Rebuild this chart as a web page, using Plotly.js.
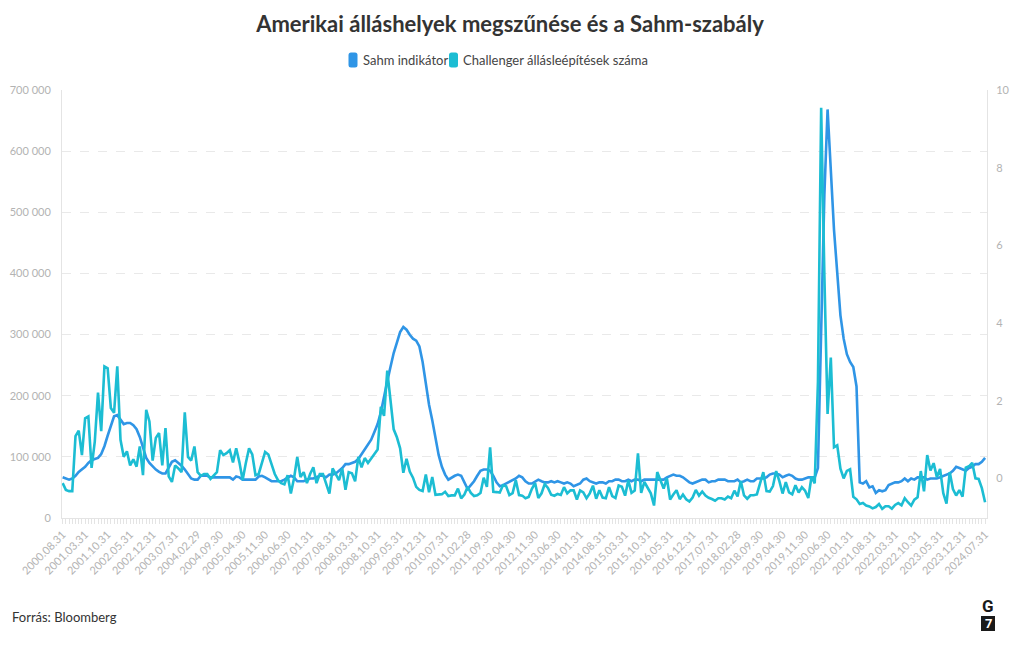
<!DOCTYPE html>
<html>
<head>
<meta charset="utf-8">
<script src="https://cdn.plot.ly/plotly-3.0.1.min.js"></script>
<style>
  html, body { margin: 0; padding: 0; background: #ffffff; }
  #chart { width: 1020px; height: 650px; }
</style>
</head>
<body>
<div id="chart"></div>
<script>
// ---------------- DATA ----------------
const TITLE = 'Amerikai álláshelyek megszűnése és a Sahm-szabály';
const SERIES_NAMES = ['Sahm indikátor', 'Challenger állásleépítések száma'];
const SOURCE = 'Forrás: Bloomberg';

// first month of the monthly series (month-end dates)
const START_YEAR = 2000;
const START_MONTH = 8;

// Sahm recession indicator (percentage points), monthly, 2000.08 – 2024.07
const sahmIndicator = [
  0.03, 0.0, -0.03, 0.0, 0.07,                                              // 2000
  0.17, 0.23, 0.3, 0.4, 0.47, 0.5, 0.53, 0.63, 0.83, 1.1, 1.37, 1.6,        // 2001
  1.63, 1.5, 1.4, 1.43, 1.43, 1.37, 1.27, 1.07, 0.77, 0.53, 0.4, 0.3,       // 2002
  0.23, 0.17, 0.13, 0.13, 0.27, 0.43, 0.47, 0.4, 0.33, 0.23, 0.13, 0.0,     // 2003
  -0.03, -0.03, 0.07, 0.07, 0.07, 0.03, 0.03, 0.03, 0.03, 0.03, 0.03, 0.03, // 2004
  -0.03, 0.05, 0.03, -0.03, -0.03, -0.03, -0.03, -0.03, 0.05, 0.07, 0.03, -0.03, // 2005
  -0.07, -0.07, -0.07, -0.07, -0.03, 0.03, 0.07, 0.03, -0.07, -0.07, -0.07, -0.03, // 2006
  0.0, 0.0, 0.03, 0.07, 0.07, 0.03, 0.1, 0.1, 0.13, 0.2, 0.27, 0.37,        // 2007
  0.37, 0.4, 0.43, 0.5, 0.63, 0.77, 0.87, 1.0, 1.2, 1.4, 1.7, 2.13,         // 2008
  2.5, 2.87, 3.23, 3.5, 3.77, 3.9, 3.83, 3.7, 3.6, 3.55, 3.4, 3.0,          // 2009
  2.4, 1.9, 1.5, 1.0, 0.6, 0.3, 0.1, -0.03, 0.03, 0.07, 0.1, 0.07,          // 2010
  -0.1, -0.27, -0.17, -0.07, 0.07, 0.2, 0.23, 0.23, 0.2, 0.07, -0.1, -0.2,  // 2011
  -0.17, -0.13, -0.07, -0.03, 0.0, 0.07, 0.03, -0.07, -0.13, -0.13, -0.07, -0.03, // 2012
  -0.07, -0.1, -0.1, -0.07, -0.1, -0.07, -0.1, -0.13, -0.1, -0.13, -0.2, -0.17, // 2013
  -0.13, -0.03, 0.0, -0.07, -0.1, -0.13, -0.1, -0.1, -0.13, -0.07, -0.07, -0.03, // 2014
  -0.03, -0.07, -0.07, -0.03, -0.07, -0.03, -0.03, -0.07, -0.03, -0.03, -0.03, -0.03, // 2015
  -0.03, -0.03, -0.03, 0.03, 0.07, 0.1, 0.07, 0.07, 0.03, -0.03, -0.1, -0.13, // 2016
  -0.1, -0.07, -0.03, -0.03, -0.1, -0.07, -0.07, -0.03, -0.03, -0.03, -0.07, -0.07, // 2017
  -0.07, -0.03, -0.1, -0.07, -0.03, -0.07, -0.07, 0.0, 0.0, 0.0, 0.03, 0.1, // 2018
  0.13, 0.13, 0.1, 0.03, 0.07, 0.1, 0.07, 0.0, -0.03, -0.03, 0.0, 0.03,     // 2019
  0.03, 0.03, 0.27, 4.07, 7.3, 9.5, 8.0, 6.4, 5.3, 4.2, 3.6, 3.2,           // 2020
  3.0, 2.87, 2.37, -0.1, -0.13, -0.07, -0.23, -0.2, -0.37, -0.3, -0.33, -0.3, // 2021
  -0.17, -0.13, -0.1, -0.1, -0.07, 0.0, -0.07, 0.0, -0.03, 0.03, 0.03, 0.03, // 2022
  -0.03, 0.0, 0.0, 0.0, 0.03, 0.07, 0.1, 0.13, 0.2, 0.3, 0.27, 0.23,        // 2023
  0.2, 0.27, 0.3, 0.37, 0.37, 0.43, 0.53                                    // 2024
];

// Challenger job cuts (number of announced layoffs), monthly, 2000.08 – 2024.07
const challengerCuts = [
  57000, 46000, 44000, 44000, 134000,                                                    // 2000
  143000, 103000, 163000, 166000, 82000, 125000, 205000, 142000, 248000, 245000, 180000, 172000, // 2001
  248000, 128000, 100000, 109000, 86000, 96000, 84000, 117000, 70000, 177000, 158000, 94000,    // 2002
  131000, 139000, 86000, 147000, 68000, 59000, 86000, 81000, 75000, 173000, 100000, 94000,      // 2003
  117000, 75000, 69000, 72000, 72000, 64000, 69000, 75000, 111000, 103000, 106000, 111000,      // 2004
  91000, 114000, 91000, 62000, 90000, 114000, 104000, 70000, 72000, 91000, 108000, 104000,      // 2005
  88000, 72000, 62000, 57000, 55000, 70000, 40000, 65000, 100000, 67000, 75000, 57000,          // 2006
  72000, 83000, 57000, 72000, 72000, 54000, 40000, 81000, 72000, 62000, 81000, 46000,           // 2007
  75000, 73000, 60000, 100000, 83000, 98000, 90000, 97000, 105000, 112000, 182000, 167000,      // 2008
  241000, 190000, 145000, 132000, 114000, 74000, 97000, 76000, 66000, 51000, 46000, 44000,      // 2009
  71000, 42000, 67000, 38000, 39000, 39000, 43000, 36000, 37000, 37000, 48000, 32000,           // 2010
  38500, 50700, 41000, 36000, 37000, 41000, 66000, 51000, 115700, 42700, 42400, 41600,          // 2011
  53500, 51700, 37500, 40600, 61900, 37600, 36600, 32200, 34400, 47700, 57100, 32600,           // 2012
  40400, 55400, 49300, 38100, 36400, 39400, 37700, 50500, 40300, 45200, 45300, 30300,           // 2013
  45100, 41800, 32200, 40300, 52900, 31400, 45400, 33400, 32200, 50500, 35900, 32600,           // 2014
  53000, 51000, 36600, 61600, 41000, 44800, 105700, 41200, 58900, 50500, 40300, 20400,          // 2015
  75100, 61600, 48200, 65100, 30200, 38500, 45300, 30800, 38400, 30700, 26900, 33600,           // 2016
  45900, 36600, 43300, 36600, 33100, 31100, 28300, 32200, 32300, 30200, 35000, 32400,           // 2017
  44700, 35400, 60400, 36900, 31500, 37200, 37200, 38500, 55000, 75000, 43900, 43100,           // 2018
  52200, 76800, 60200, 40000, 58600, 41900, 38800, 53500, 41600, 50300, 44600, 32800,           // 2019
  67700, 56700, 222300, 671100, 397000, 170200, 262600, 115800, 118800, 80700, 64800, 77000,    // 2020
  79600, 34500, 30600, 22900, 24600, 20500, 18900, 15700, 17900, 22800, 14900, 19100,           // 2021
  19300, 15200, 21400, 24300, 20700, 32500, 25800, 20300, 29900, 33800, 76800, 43700,           // 2022
  103000, 77800, 89700, 66900, 80100, 40700, 23700, 75200, 47500, 36800, 45500, 34800,          // 2023
  82300, 84600, 90300, 64800, 63800, 48800, 25900                                               // 2024
];

// right-axis tick values, label spacing (every 7th month)
const sahmTicks = [0, 2, 4, 6, 8, 10];
const LABEL_EVERY = 7;

// ---------------- HELPERS ----------------
function monthEndLabels(y0, m0, n) {
  const out = [];
  for (let k = 0; k < n; k++) {
    const y = y0 + Math.floor((m0 - 1 + k) / 12);
    const m = ((m0 - 1 + k) % 12) + 1;
    const d = new Date(Date.UTC(y, m, 0)).getUTCDate();
    out.push(y + '.' + String(m).padStart(2, '0') + '.' + String(d).padStart(2, '0'));
  }
  return out;
}
const months = monthEndLabels(START_YEAR, START_MONTH, sahmIndicator.length);
const tickText = months.map((m, i) => (i % LABEL_EVERY === 0 ? m : ''));

// ---------------- GEOMETRY ----------------
const W = 1020, H = 650;
const M = { l: 62, r: 33, t: 90, b: 132 };
const PW = W - M.l - M.r, PH = H - M.t - M.b;
const px = x => (x - M.l) / PW;        // pixel -> paper x
const py = y => (M.t + PH - y) / PH;   // pixel -> paper y

// rounded rectangle path in paper coordinates, from pixel box
function roundRect(x0, y0, x1, y1, r) {
  const rx = r / PW, ry = r / PH;
  const X0 = px(x0), X1 = px(x1), Yt = py(y0), Yb = py(y1);
  return 'M' + (X0 + rx) + ',' + Yt +
    ' L' + (X1 - rx) + ',' + Yt +
    ' Q' + X1 + ',' + Yt + ' ' + X1 + ',' + (Yt - ry) +
    ' L' + X1 + ',' + (Yb + ry) +
    ' Q' + X1 + ',' + Yb + ' ' + (X1 - rx) + ',' + Yb +
    ' L' + (X0 + rx) + ',' + Yb +
    ' Q' + X0 + ',' + Yb + ' ' + X0 + ',' + (Yb + ry) +
    ' L' + X0 + ',' + (Yt - ry) +
    ' Q' + X0 + ',' + Yt + ' ' + (X0 + rx) + ',' + Yt + ' Z';
}

const BLUE = '#2f95e6';
const CYAN = '#1cbdd3';
const AXIS_TXT = '#b3b3b3';
const LINE_CLR = '#e4e4e4';
const FONT = 'Lato, "Source Sans Pro", "Open Sans", sans-serif';

// ---------------- TRACES ----------------
const traces = [
  {
    type: 'scatter', mode: 'lines', name: SERIES_NAMES[0],
    x: months, y: sahmIndicator, yaxis: 'y',
    line: { color: BLUE, width: 2.6 }, showlegend: false,
    hovertemplate: '%{x}<br>%{y}<extra>' + SERIES_NAMES[0] + '</extra>'
  },
  {
    type: 'scatter', mode: 'lines', name: SERIES_NAMES[1],
    x: months, y: challengerCuts, yaxis: 'y2',
    line: { color: CYAN, width: 2.6 }, showlegend: false,
    hovertemplate: '%{x}<br>%{y}<extra>' + SERIES_NAMES[1] + '</extra>'
  }
];

// ---------------- LAYOUT ----------------
const legendY = 60;
const layout = {
  width: W, height: H,
  margin: M,
  paper_bgcolor: '#ffffff', plot_bgcolor: '#ffffff',
  font: { family: FONT, color: '#444' },
  separators: ', ',
  showlegend: false,
  title: {
    text: '<b>' + TITLE + '</b>',
    font: { family: FONT, size: 22, color: '#333333' },
    x: 0.5, xanchor: 'center', xref: 'container',
    y: 1 - 24 / H, yanchor: 'middle', yref: 'container'
  },
  xaxis: {
    type: 'category',
    range: [-0.2, months.length - 0.4],
    tickmode: 'array', tickvals: months, ticktext: tickText,
    tickangle: -45,
    ticks: 'outside', ticklen: 5, tickcolor: LINE_CLR, tickwidth: 1,
    tickfont: { family: FONT, size: 11, color: AXIS_TXT },
    showline: true, linecolor: LINE_CLR, linewidth: 1,
    showgrid: false, zeroline: false, automargin: false, fixedrange: true
  },
  // Sahm indicator: right axis (primary, drawn first)
  yaxis: {
    side: 'right',
    range: [-1.017, 10.0005],
    tickmode: 'array', tickvals: sahmTicks,
    tickfont: { family: FONT, size: 11, color: AXIS_TXT },
    ticks: 'outside', ticklen: 6, tickcolor: 'rgba(0,0,0,0)',
    showline: true, linecolor: LINE_CLR, linewidth: 1,
    showgrid: false, zeroline: false, automargin: false, fixedrange: true
  },
  // Challenger job cuts: left axis (overlay, drawn on top)
  yaxis2: {
    overlaying: 'y', side: 'left',
    range: [0, 700050],
    tick0: 0, dtick: 100000,
    exponentformat: 'none',
    tickfont: { family: FONT, size: 11, color: AXIS_TXT },
    ticks: 'outside', ticklen: 8, tickcolor: 'rgba(0,0,0,0)',
    showline: true, linecolor: LINE_CLR, linewidth: 1,
    showgrid: true, gridcolor: '#e9e9e9', griddash: 'dash', gridwidth: 1,
    zeroline: false, automargin: false, fixedrange: true
  },
  shapes: [
    // legend swatches (rounded)
    { type: 'path', xref: 'paper', yref: 'paper',
      path: roundRect(348.5, 52.5, 357.5, 67.5, 2.5),
      fillcolor: BLUE, line: { width: 0 } },
    { type: 'path', xref: 'paper', yref: 'paper',
      path: roundRect(449, 52.5, 458, 67.5, 2.5),
      fillcolor: CYAN, line: { width: 0 } },
    // G7 logo box
    { type: 'rect', xref: 'paper', yref: 'paper',
      x0: px(981), x1: px(995), y0: py(631), y1: py(616),
      fillcolor: '#1a1a1a', line: { width: 0 } }
  ],
  annotations: [
    { xref: 'paper', yref: 'paper', x: px(361), y: py(legendY),
      xanchor: 'left', yanchor: 'middle', showarrow: false,
      text: SERIES_NAMES[0], font: { family: FONT, size: 13, color: '#444' } },
    { xref: 'paper', yref: 'paper', x: px(461), y: py(legendY),
      xanchor: 'left', yanchor: 'middle', showarrow: false,
      text: SERIES_NAMES[1], font: { family: FONT, size: 13, color: '#444' } },
    { xref: 'paper', yref: 'paper', x: px(10), y: py(617),
      xanchor: 'left', yanchor: 'middle', showarrow: false,
      text: SOURCE, font: { family: FONT, size: 13, color: '#333' } },
    { xref: 'paper', yref: 'paper', x: px(988), y: py(606),
      xanchor: 'center', yanchor: 'middle', showarrow: false,
      text: '<b>G</b>', font: { family: 'Roboto, Arial, sans-serif', size: 17, color: '#1a1a1a' } },
    { xref: 'paper', yref: 'paper', x: px(988), y: py(623.5),
      xanchor: 'center', yanchor: 'middle', showarrow: false,
      text: '<b>7</b>', font: { family: 'Roboto, Arial, sans-serif', size: 13, color: '#ffffff' } }
  ]
};

Plotly.newPlot('chart', traces, layout, { displayModeBar: false, responsive: false });
</script>
</body>
</html>
